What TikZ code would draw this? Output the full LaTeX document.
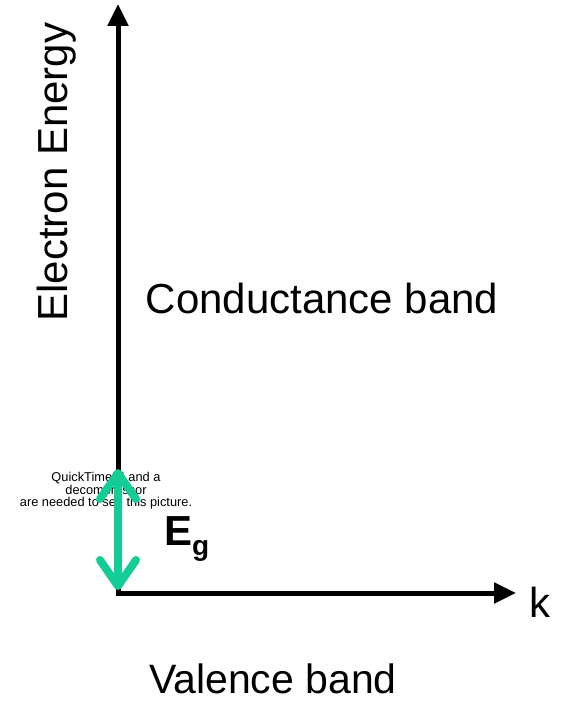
\documentclass[tikz,border=0pt]{standalone}
\usepackage{fontspec}
\setmainfont{Liberation Sans}
\usepackage{tikz}
\usetikzlibrary{arrows.meta, positioning}
\definecolor{gapgreen}{RGB}{20, 204, 150}
\tikzset{
  axis/.style={line width=5pt, -{Triangle[length=22pt, width=20pt]}},
  biglabel/.style={font=\fontsize{42}{50}\selectfont, inner sep=0pt},
  gaparrow/.style={line width=8pt, gapgreen,
    {Straight Barb[length=26pt, width=36pt, line width=8pt, round]}-{Straight Barb[length=26pt, width=36pt, line width=8pt, round]}}
}

\begin{document}
\begin{tikzpicture}[x=1pt, y=-1pt]
  \useasboundingbox (0,0) rectangle (561,701);
  \coordinate (origin) at (118,593);
  \coordinate (ytop) at (118,4);
  \coordinate (xend) at (516,593);
  \draw[axis] ([yshift=2.5pt]origin) -- (ytop);
  \draw[axis] ([xshift=-2.5pt]origin) -- (xend);

  \node[biglabel, rotate=90] (energy) at (57,172) {Electron Energy};
  \node[biglabel] (cband) at (322,298) {Conductance band};
  \node[biglabel] (kname) at (540,602) {k};
  \node[biglabel, font=\fontsize{41}{50}\selectfont] (vband) at (273,679) {Valence band};

  % placeholder text of the missing picture
  \node[align=center, inner sep=0pt, font=\fontsize{12.8}{12.5}\selectfont] (qt) at (106,491)
       {QuickTime™ and a\\decompressor\\are needed to see this picture.};

  \coordinate (gaptop) at (118,469);
  \coordinate (gapbot) at (118,590);
  \draw[gaparrow] (gaptop) -- (gapbot);
  \node[biglabel, anchor=base west, font=\fontsize{42}{50}\selectfont\bfseries] (egap) at (164,545)
       {E\raisebox{-10pt}{\fontsize{28}{28}\selectfont g}};
\end{tikzpicture}
\end{document}
